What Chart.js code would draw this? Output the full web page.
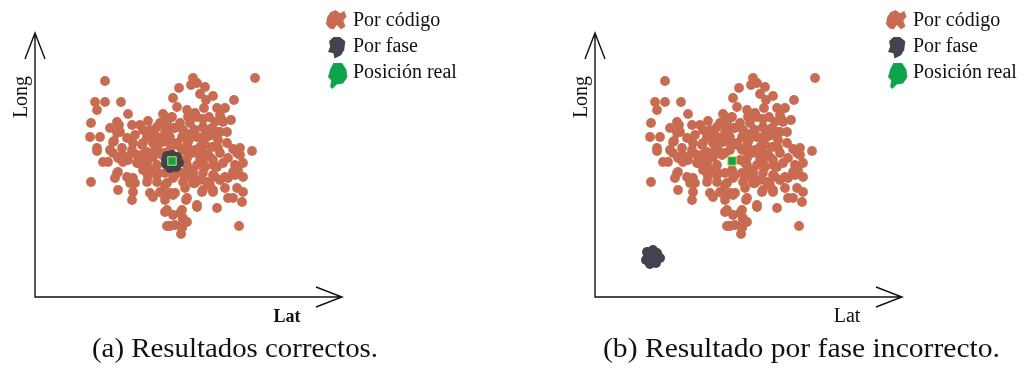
<!DOCTYPE html>
<html>
<head>
<meta charset="utf-8">
<script src="https://cdn.jsdelivr.net/npm/chart.js@4.4.1/dist/chart.umd.min.js"></script>
<style>
  html, body { margin:0; padding:0; background:#fff; }
  body { width:1027px; height:371px; position:relative; overflow:hidden; }
  .panel { position:absolute; top:0; height:335px; }
  .caption { position:absolute; top:335px; font-family:"Liberation Serif", serif; font-size:27px; line-height:1; white-space:nowrap; color:#111; transform-origin:0 0; }
</style>
</head>
<body>
<div class="panel" id="pa" style="left:0;width:560px"><canvas id="ca"></canvas></div>
<div class="panel" id="pb" style="left:560px;width:467px"><canvas id="cb"></canvas></div>
<div class="caption" id="capA" style="left:92px">(a) Resultados correctos.</div>
<div class="caption" id="capB" style="left:603px">(b) Resultado por fase incorrecto.</div>
<script>
// ---- data (Lat, Long) in arbitrary units ----
const legendLabels = ["Por código", "Por fase", "Posición real"];
const axisLabels = ["Lat", "Long"];
const captions = ["(a) Resultados correctos.", "(b) Resultado por fase incorrecto."];

// "Por código" estimates (same cloud in both panels)
const codigoLat = [
  70,220,158,162,156,144,170,165,178,60,70,86,138,171,199,
  62,142,152,169,182,190,93,128,157,162,174,185,82,113,135,145,155,168,188,196,56,84,97,132,125,137,160,153,168,187,180,
  75,108,122,131,148,158,177,185,65,55,82,92,100,112,122,135,147,162,172,183,85,115,137,140,150,160,170,183,192,157,165,177,120,130,79,
  78,98,108,118,128,142,153,165,177,192,62,75,87,97,112,123,147,157,173,185,205,217,202,78,90,102,118,152,165,178,193,205,107,135,130,62,87,97,107,117,127,142,152,183,198,155,168,175,83,93,113,
  68,73,88,102,112,122,152,162,170,182,200,208,82,92,98,112,122,147,158,168,178,198,203,80,83,103,108,113,122,130,137,150,168,178,188,158,180,190,200,138,
  56,100,112,122,132,148,160,172,193,208,83,98,115,125,135,150,167,178,190,202,208,97,118,130,138,151,193,198,207,95,127,158,168,178,140,152,
  162,182,130,138,145,148,152,132,135,147,204,146,162,147,148,147,140,132,
  125,135,145,155,115,130,160,170,110,150,165,120,140,105,130,175,185
];
const codigoLong = [
  216,219,219,214,212,209,210,203,201,195,195,195,199,197,197,
  187,190,187,189,189,189,183,183,182,180,180,182,175,176,179,174,174,170,175,177,174,172,172,177,174,180,184,180,178,177,175,
  169,167,170,167,167,165,169,165,160,160,164,159,162,160,160,160,160,160,160,157,165,167,169,169,164,167,167,165,165,160,159,162,162,164,156,
  155,154,154,154,155,154,155,150,150,154,149,147,149,147,145,147,147,144,142,144,149,146,144,144,140,142,140,139,139,137,139,142,152,154,144,146,142,144,142,144,142,152,152,149,148,145,145,140,139,137,137,
  135,135,135,134,134,132,132,132,130,130,132,134,124,120,119,124,125,124,125,124,122,125,127,119,125,134,127,120,122,124,127,134,134,132,134,122,120,120,122,119,
  115,114,115,115,114,115,114,115,119,120,107,105,104,105,104,109,105,107,109,109,105,97,100,97,102,97,99,99,95,114,104,114,107,105,104,99,
  90,89,85,82,84,77,75,71,71,70,71,63,92,87,79,69,72,87,
  157,147,137,127,127,112,147,152,137,119,117,152,122,172,172,112,117
];

// "Por fase" estimates: panel (a) correct, panel (b) wrong
const faseLatA  = [132,137,142,144,141,135,131,131,138];
const faseLongA = [141,142,140,134,130,129,133,137,136];
const faseLatB  = [52,58,62,65,61,55,51,53,58];
const faseLongB = [45,47,44,39,34,33,37,41,40];

// "Posición real"
const realLat = [137];
const realLong = [136];

const colors = { codigo:"#C96B50", fase:"#45424F", real:"#0FA34E", realEdge:"#D7DF45" };

function pts(xs, ys){ return xs.map((x,i)=>({x:x, y:ys[i]})); }

// legend blob shapes (offsets within icon box)
const blobs = [
  [[1,7],[4,2],[9,0],[13,3],[17,1],[19,6],[16,10],[18,15],[14,18],[10,14],[7,18],[3,17],[0,13]],
  [[1,4],[5,0],[11,0],[16,4],[15,12],[12,17],[6,20],[5,15],[0,14],[2,9]],
  [[5,0],[13,0],[17,6],[18,13],[14,19],[8,20],[4,24],[2,22],[3,16],[0,13],[2,6]]
];

const decorPlugin = {
  id:"decor",
  afterDraw(chart, args, opts){
    const ctx = chart.ctx, a = chart.chartArea;
    ctx.save();
    ctx.strokeStyle = "#111"; ctx.lineWidth = 1.4; ctx.lineCap = "butt";
    // axes with open arrow heads
    ctx.beginPath();
    ctx.moveTo(a.left, a.top); ctx.lineTo(a.left, a.bottom); ctx.lineTo(a.right, a.bottom);
    ctx.moveTo(a.left-10, a.top+26); ctx.lineTo(a.left, a.top); ctx.lineTo(a.left+10, a.top+26);
    ctx.moveTo(a.right-26, a.bottom-10); ctx.lineTo(a.right, a.bottom); ctx.lineTo(a.right-26, a.bottom+10);
    ctx.stroke();
    // axis titles
    ctx.fillStyle = "#111";
    ctx.textAlign = "center"; ctx.textBaseline = "alphabetic";
    ctx.font = (opts.latBold ? "bold 18px" : "20px") + ' "Liberation Serif", serif';
    ctx.fillText(axisLabels[0], a.left + 252, a.bottom + 25);
    ctx.save();
    ctx.translate(a.left - 8, a.top + 64);
    ctx.rotate(-Math.PI/2);
    ctx.font = '20px "Liberation Serif", serif';
    ctx.fillText(axisLabels[1], 0, 0);
    ctx.restore();
    // legend
    const lx = a.left + 291, ly = 10;
    ctx.textAlign = "left";
    ctx.font = '20px "Liberation Serif", serif';
    chart.data.datasets.forEach((ds, i) => {
      const oy = ly + i*27 + (i===2 ? -1 : 0);
      const ox = lx + (i===0 ? 0 : 2);
      ctx.fillStyle = ds.backgroundColor;
      ctx.beginPath();
      blobs[i].forEach((p,k)=>{ const s = 1.08; k ? ctx.lineTo(ox+p[0]*s, oy+p[1]*s) : ctx.moveTo(ox+p[0]*s, oy+p[1]*s); });
      ctx.closePath(); ctx.fill();
      ctx.fillStyle = "#111";
      ctx.fillText(ds.label, lx + 27, 26 + i*26);
    });
    ctx.restore();
  }
};

function makeChart(id, panelWidth, faseLat, faseLong, latBold){
  return new Chart(document.getElementById(id), {
    type:"scatter",
    data:{ datasets:[
      { label:legendLabels[0], data:pts(codigoLat, codigoLong), backgroundColor:colors.codigo, pointRadius:4.9, borderWidth:0, pointHoverRadius:4.9, order:3 },
      { label:legendLabels[1], data:pts(faseLat, faseLong), backgroundColor:colors.fase, pointRadius:5, borderWidth:0, pointHoverRadius:5, order:2 },
      { label:legendLabels[2], data:pts(realLat, realLong), backgroundColor:colors.real, borderColor:colors.realEdge, borderWidth:1, pointStyle:"rect", pointRadius:6, pointHoverRadius:6, order:1 }
    ]},
    options:{
      responsive:true, maintainAspectRatio:false, animation:false,
      layout:{ padding:{ left:35, top:33, right:panelWidth-342, bottom:38 } },
      scales:{
        x:{ type:"linear", min:0, max:307, display:false },
        y:{ type:"linear", min:0, max:264, display:false }
      },
      plugins:{ legend:{display:false}, tooltip:{enabled:false}, decor:{ latBold:latBold } },
      events:[]
    },
    plugins:[decorPlugin]
  });
}

makeChart("ca", 560, faseLatA, faseLongA, true);
makeChart("cb", 467, faseLatB, faseLongB, false);

// captions: stretch to the reference widths
function fit(id, w){
  const el = document.getElementById(id);
  const r = el.getBoundingClientRect().width;
  el.style.transform = "scaleX(" + (w/r) + ")";
}
fit("capA", 286); fit("capB", 397);
</script>
</body>
</html>
